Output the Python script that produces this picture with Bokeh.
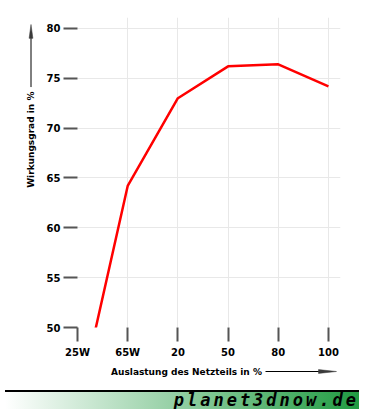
import numpy as np
from bokeh.plotting import figure
from bokeh.layouts import column, gridplot
from bokeh.models import FixedTicker, Range1d, Div
from bokeh.core.properties import value
from bokeh.embed import file_html
from bokeh.resources import INLINE

# ---- data ----
categories = ["25W", "65W", "20", "50", "80", "100"]
efficiency = [41.8, 64.2, 73.0, 76.2, 76.4, 74.2]
y_ticks = [50, 55, 60, 65, 70, 75, 80]
y_label = "Wirkungsgrad in %"
x_label = "Auslastung des Netzteils in %"
brand = "planet3dnow.de"

xs = list(range(len(categories)))
FONT = "DejaVu Sans"

# ---- main chart ----
p = figure(width=314, height=360, output_backend="svg", toolbar_location=None,
           x_range=Range1d(0, 5.24), y_range=Range1d(50, 81.1),
           min_border_left=37, min_border_right=14, min_border_top=17, min_border_bottom=31)
p.outline_line_color = None
p.background_fill_color = "white"
p.border_fill_color = "white"

p.line(xs, efficiency, line_color="#ff0000", line_width=2.5)

for ax in (p.xaxis, p.yaxis):
    ax.axis_line_color = None
    ax.major_tick_in = 0
    ax.major_tick_out = 14
    ax.major_tick_line_color = "#555555"
    ax.major_tick_line_width = 2
    ax.minor_tick_line_color = None
    ax.major_label_text_font = FONT
    ax.major_label_text_font_style = "bold"
    ax.major_label_text_font_size = "10px"
    ax.major_label_text_color = "black"

p.xaxis.ticker = FixedTicker(ticks=xs)
p.xaxis.major_label_overrides = {i: c for i, c in zip(xs, categories)}
p.xaxis.major_label_standoff = 5
p.yaxis.ticker = FixedTicker(ticks=y_ticks)
p.yaxis.major_label_standoff = 3

p.xgrid.ticker = FixedTicker(ticks=xs)
p.ygrid.ticker = FixedTicker(ticks=y_ticks)
p.grid.grid_line_color = "#e8e8e8"
p.grid.grid_line_width = 1


def strip(width, height, xr, yr, **borders):
    f = figure(width=width, height=height, output_backend="svg", toolbar_location=None,
               x_range=xr, y_range=yr, x_axis_location=None, y_axis_location=None,
               min_border=0, **borders)
    f.outline_line_color = None
    f.grid.grid_line_color = None
    f.background_fill_color = "white"
    f.border_fill_color = "white"
    return f


# ---- y-axis title strip (page pixel coordinates, y downward) ----
fy = strip(40, 360, Range1d(0, 40), Range1d(329, 17), min_border_top=17, min_border_bottom=31)
fy.text(x=[30], y=[140], text=[y_label], angle=np.pi / 2, text_align="center",
        text_baseline="middle", text_font=value(FONT), text_font_style="bold",
        text_font_size="9px", text_color="black")
fy.segment(x0=[30.5], y0=[87], x1=[30.5], y1=[36], line_color="black", line_width=1)
fy.patch(x=[28.6, 30.5, 32.4], y=[38, 24, 38], fill_color="#3a3a3a", line_color="#3a3a3a", line_width=0.5)

# ---- x-axis title strip ----
fx = strip(314, 25, Range1d(77, 340), Range1d(385, 360), min_border_left=37, min_border_right=14)
fx.text(x=[186], y=[371], text=[x_label], text_align="center", text_baseline="middle",
        text_font=value(FONT), text_font_style="bold", text_font_size="9px", text_color="black")
fx.segment(x0=[265], y0=[371], x1=[320], y1=[371], line_color="black", line_width=1)
fx.patch(x=[318, 336, 318], y=[369.1, 371, 372.9], fill_color="#3a3a3a", line_color="#3a3a3a", line_width=0.5)

grid = gridplot([[fy, p], [None, fx]], toolbar_location=None)

# ---- footer banner ----
footer = Div(text=brand, width=354, height=19, styles={
    "background": "linear-gradient(to right, #ffffff 0px, #17973a 370px)",
    "border-top": "2px solid #000000",
    "box-sizing": "border-box",
    "font-family": "'DejaVu Sans Mono', monospace",
    "font-weight": "bold",
    "font-style": "italic",
    "font-size": "17px",
    "line-height": "17px",
    "letter-spacing": "3px",
    "text-align": "right",
    "color": "#000000",
    "overflow": "hidden",
})

layout = column(grid, footer, spacing=0)
open("out.html", "w").write(file_html(layout, INLINE))
